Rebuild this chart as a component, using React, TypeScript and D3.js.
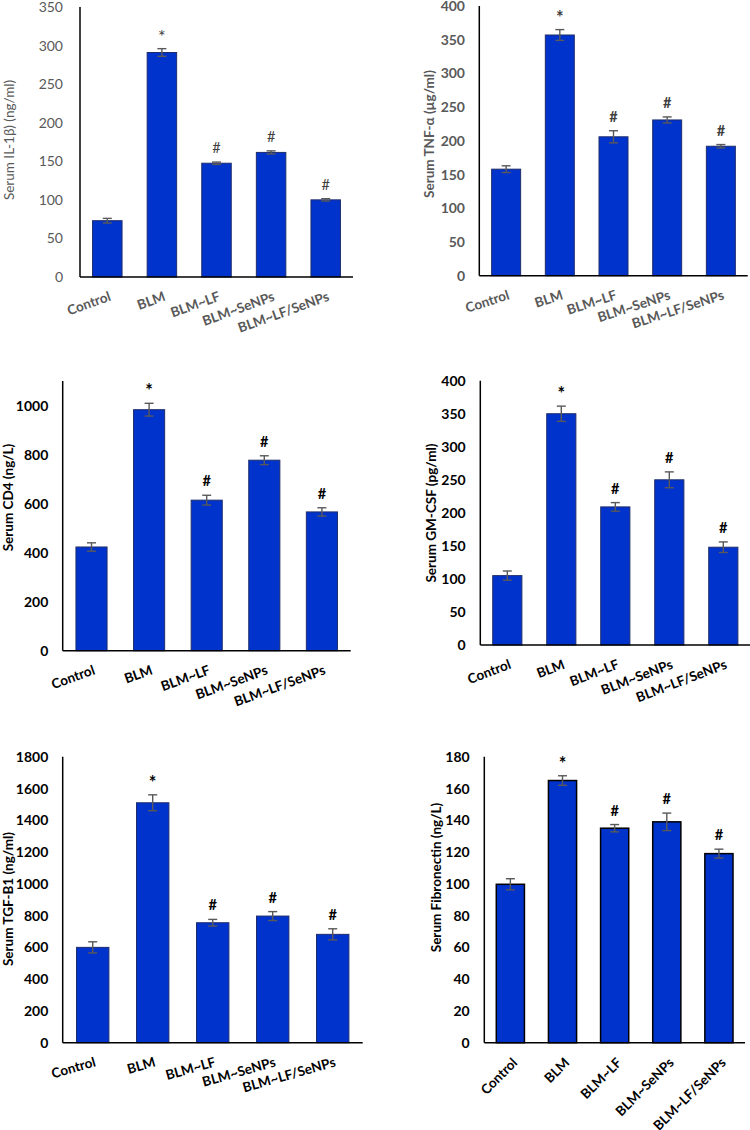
import React from "react";
import * as d3 from "d3";

const categories = ["Control", "BLM", "BLM~LF", "BLM~SeNPs", "BLM~LF/SeNPs"];
const marks = ["", "*", "#", "#", "#"];

const il1b = [73, 291, 147.5, 161.5, 100];
const il1bErr = [3, 5, 1.5, 2, 1.5];
const tnf = [158, 357, 206, 231, 192];
const tnfErr = [5, 8, 9, 4.5, 2.5];
const cd4 = [423, 983, 614, 777, 566];
const cd4Err = [17, 26, 20, 18, 17];
const gmcsf = [105, 350, 209, 250, 148];
const gmcsfErr = [7, 11.5, 6.5, 12, 8];
const tgf = [600, 1510, 755, 797, 682];
const tgfErr = [35, 50, 21, 28, 35];
const fibro = [99.7, 165, 135, 139, 119];
const fibroErr = [3.5, 3, 2.3, 5.5, 2.8];

const ticks50to350 = [0, 50, 100, 150, 200, 250, 300, 350];
const ticks50to400 = [0, 50, 100, 150, 200, 250, 300, 350, 400];
const ticks200to1000 = [0, 200, 400, 600, 800, 1000];
const ticks200to1800 = [0, 200, 400, 600, 800, 1000, 1200, 1400, 1600, 1800];
const ticks20to180 = [0, 20, 40, 60, 80, 100, 120, 140, 160, 180];

const FONT = "Lato, 'Open Sans', sans-serif";

type PanelCfg = {
  values: number[];
  errs: number[];
  ticks: number[];
  yMax: number;
  title: string;
  x0: number;
  x1: number;
  yBase: number;
  yTop: number;
  tickRight: number;
  titleX: number;
  titleY: number;
  angle: number;
  textColor: string;
  tickWeight: string;
  titleWeight: string;
  markColor: string;
  markWeight: string;
  barStroke: string;
  barStrokeW: number;
};

const panels: PanelCfg[] = [
  {
    values: il1b, errs: il1bErr, ticks: ticks50to350, yMax: 350,
    title: "Serum IL-1β) (ng/ml)", x0: 80, x1: 353, yBase: 277, yTop: 7,
    tickRight: 63, titleX: 14, titleY: 140, angle: 20,
    textColor: "#595959", tickWeight: "normal", titleWeight: "normal",
    markColor: "#404040", markWeight: "normal", barStroke: "#1f2d6b", barStrokeW: 1,
  },
  {
    values: tnf, errs: tnfErr, ticks: ticks50to400, yMax: 400,
    title: "Serum TNF-α (µg/ml)", x0: 479.3, x1: 747.7, yBase: 275.7, yTop: 6,
    tickRight: 465, titleX: 434, titleY: 134, angle: 18,
    textColor: "#595959", tickWeight: "bold", titleWeight: "bold",
    markColor: "#404040", markWeight: "bold", barStroke: "#1f2d6b", barStrokeW: 1,
  },
  {
    values: cd4, errs: cd4Err, ticks: ticks200to1000, yMax: 1100,
    title: "Serum CD4 (ng/L)", x0: 62.7, x1: 350.7, yBase: 650.7, yTop: 381,
    tickRight: 48.3, titleX: 12.5, titleY: 497.5, angle: 20,
    textColor: "#000", tickWeight: "bold", titleWeight: "bold",
    markColor: "#000", markWeight: "bold", barStroke: "#1f2d6b", barStrokeW: 1,
  },
  {
    values: gmcsf, errs: gmcsfErr, ticks: ticks50to400, yMax: 400,
    title: "Serum GM-CSF (pg/ml)", x0: 480.3, x1: 750.3, yBase: 645, yTop: 380.7,
    tickRight: 465.7, titleX: 435.5, titleY: 513, angle: 21,
    textColor: "#000", tickWeight: "bold", titleWeight: "bold",
    markColor: "#000", markWeight: "bold", barStroke: "#1f2d6b", barStrokeW: 1,
  },
  {
    values: tgf, errs: tgfErr, ticks: ticks200to1800, yMax: 1800,
    title: "Serum TGF-B1 (ng/ml)", x0: 62.7, x1: 362.7, yBase: 1042.7, yTop: 756.7,
    tickRight: 48.3, titleX: 12.5, titleY: 899, angle: 16,
    textColor: "#000", tickWeight: "bold", titleWeight: "bold",
    markColor: "#000", markWeight: "bold", barStroke: "#1f2d6b", barStrokeW: 1,
  },
  {
    values: fibro, errs: fibroErr, ticks: ticks20to180, yMax: 180,
    title: "Serum Fibronectin (ng/L)", x0: 484.3, x1: 745, yBase: 1042.7, yTop: 756.7,
    tickRight: 469.7, titleX: 441, titleY: 877.5, angle: 45,
    textColor: "#000", tickWeight: "bold", titleWeight: "bold",
    markColor: "#000", markWeight: "bold", barStroke: "#000", barStrokeW: 1.5,
  },
];

function Panel({ cfg }: { cfg: PanelCfg }) {
  const x = d3.scaleBand<string>().domain(categories).range([cfg.x0, cfg.x1]).paddingInner(0.46).paddingOuter(0.23);
  const y = d3.scaleLinear().domain([0, cfg.yMax]).range([cfg.yBase, cfg.yTop]);
  const bw = x.bandwidth();
  const rad = (cfg.angle * Math.PI) / 180;
  const asc = 9.7;
  return (
    <g>
      {categories.map((c, i) => {
        const v = cfg.values[i];
        const e = cfg.errs[i];
        const cx = (x(c) as number) + bw / 2;
        const isStar = marks[i] === "*";
        return (
          <g key={c}>
            <rect x={x(c)} y={y(v)} width={bw} height={cfg.yBase - y(v)} fill="#0033cc" stroke={cfg.barStroke} strokeWidth={cfg.barStrokeW} />
            <line x1={cx} x2={cx} y1={y(v + e)} y2={y(v - e)} stroke="#595959" strokeWidth={1.4} />
            <line x1={cx - 4.5} x2={cx + 4.5} y1={y(v + e)} y2={y(v + e)} stroke="#595959" strokeWidth={1.4} />
            <line x1={cx - 4.5} x2={cx + 4.5} y1={y(v - e)} y2={y(v - e)} stroke="#595959" strokeWidth={1.4} />
            {marks[i] && (
              <text
                x={cx}
                y={y(v + e) - (isStar ? 6 : 9)}
                textAnchor="middle"
                fontSize={isStar ? 18 : 14.5}
                fontFamily={FONT}
                fontWeight={cfg.markWeight}
                fill={cfg.markColor}
              >
                {marks[i]}
              </text>
            )}
            <text
              transform={`translate(${cx + 1 + asc * Math.sin(rad)},${cfg.yBase + 14 + asc * Math.cos(rad)}) rotate(${-cfg.angle})`}
              textAnchor="end"
              fontSize={13.5}
              fontFamily={FONT}
              fontWeight="bold"
              fill={cfg.textColor}
            >
              {c}
            </text>
          </g>
        );
      })}
      <line x1={cfg.x0} x2={cfg.x0} y1={cfg.yTop} y2={cfg.yBase} stroke="#000" strokeWidth={1.5} />
      <line x1={cfg.x0} x2={cfg.x1} y1={cfg.yBase} y2={cfg.yBase} stroke="#000" strokeWidth={1.5} />
      {cfg.ticks.map((t) => (
        <text key={t} x={cfg.tickRight} y={y(t)} dy="0.36em" textAnchor="end" fontSize={14} fontFamily={FONT} fontWeight={cfg.tickWeight} fill={cfg.textColor}>
          {t}
        </text>
      ))}
      <text
        transform={`translate(${cfg.titleX},${cfg.titleY}) rotate(-90)`}
        textAnchor="middle"
        fontSize={13.5}
        fontFamily={FONT}
        fontWeight={cfg.titleWeight}
        fill={cfg.textColor}
      >
        {cfg.title}
      </text>
    </g>
  );
}

export default function App() {
  return (
    <svg width={750} height={1130} style={{ position: "absolute", left: 0, top: 0, background: "#fff" }}>
      <rect x={0} y={0} width={750} height={1130} fill="#fff" />
      {panels.map((p, i) => (
        <Panel key={i} cfg={p} />
      ))}
    </svg>
  );
}
